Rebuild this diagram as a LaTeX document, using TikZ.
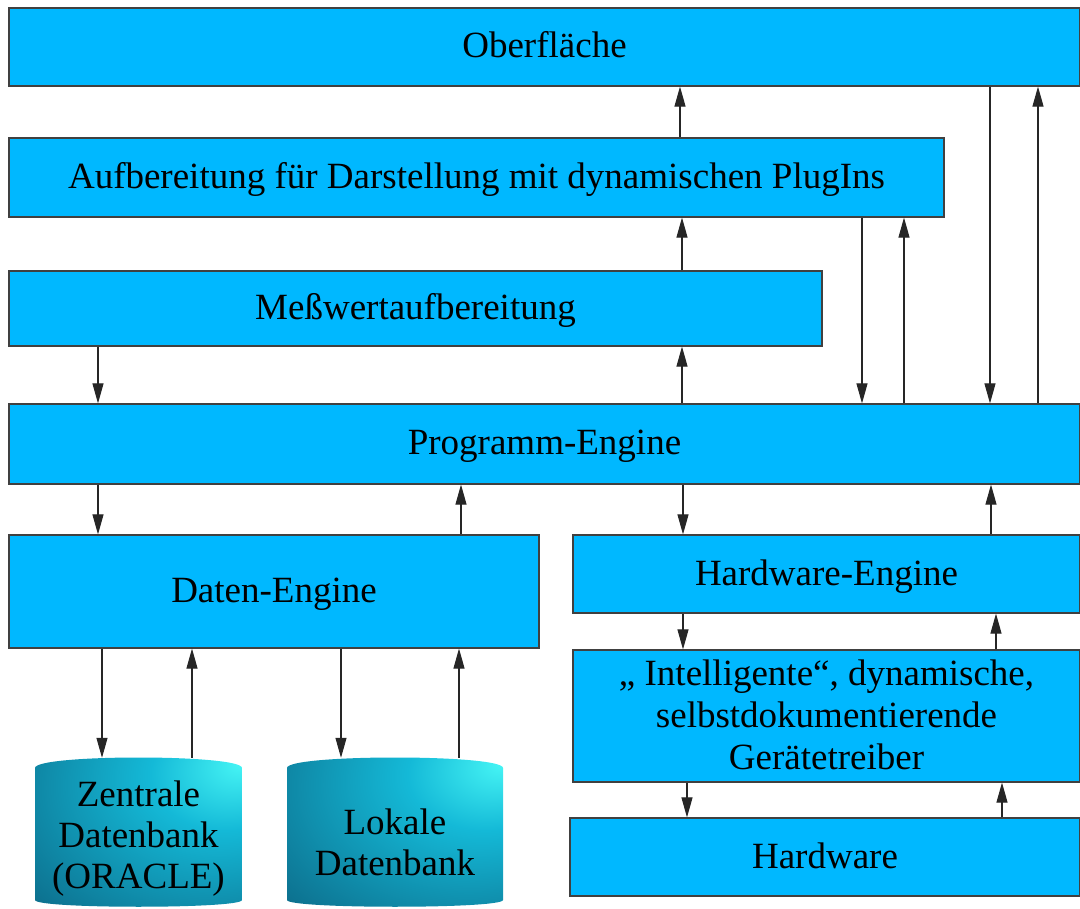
\documentclass[tikz,border=0pt]{standalone}
\usepackage{fontspec}
\setmainfont{Liberation Serif}
\usetikzlibrary{arrows.meta}
\definecolor{boxblue}{RGB}{0,184,255}
\definecolor{cA}{RGB}{70,245,245}
\definecolor{cB}{RGB}{20,185,215}
\definecolor{cC}{RGB}{12,105,135}
\pgfdeclareradialshading{cylshade}{\pgfpoint{25bp}{22bp}}{color(0bp)=(cA); color(18bp)=(cB); color(55bp)=(cC); color(110bp)=(cC)}
\begin{document}
\begin{tikzpicture}[x=1pt,y=-1pt,
  box/.style={draw=black!75, line width=1.2pt, fill=boxblue, inner sep=0pt, align=center,
    font=\fontsize{37}{42}\selectfont, text height=30pt, text depth=8pt},
  cyltext/.style={inner sep=0pt, align=center, font=\fontsize{37}{41}\selectfont},
  arr/.style={-{Triangle[length=20pt,width=11pt]}, line width=1.1pt, draw=black!85}]
\useasboundingbox (0,0) rectangle (1080,909);

\node[box, minimum width=1071pt, minimum height=78pt] (obf) at (544.5,47) {Oberfläche};
\node[box, minimum width=935pt, minimum height=79pt] (aufb) at (476.5,177.5) {Aufbereitung für Darstellung mit dynamischen PlugIns};
\node[box, minimum width=813pt, minimum height=75pt] (mess) at (415.5,308.5) {Meßwertaufbereitung};
\node[box, minimum width=1071pt, minimum height=80pt] (prog) at (544.5,444) {Programm-Engine};
\node[box, minimum width=530pt, minimum height=113pt] (daten) at (274,591.5) {Daten-Engine};
\node[box, minimum width=507pt, minimum height=78pt] (hwe) at (826.5,574) {Hardware-Engine};
\node[box, text height=114pt, text depth=8pt, minimum width=507pt, minimum height=132pt] (treib) at (826.5,716) {„ Intelligente“, dynamische,\\selbstdokumentierende\\Gerätetreiber};
\node[box, minimum width=510pt, minimum height=78pt] (hw) at (825,857) {Hardware};

% cylinders
\shade[shading=cylshade] (35,768) .. controls (35,754) and (242,754) .. (242,768) -- (242,900) .. controls (242,909) and (35,909) .. (35,900) -- cycle;
\shade[shading=cylshade] (287,768) .. controls (287,754) and (503,754) .. (503,768) -- (503,900) .. controls (503,909) and (287,909) .. (287,900) -- cycle;
\node[cyltext, minimum width=207pt, minimum height=162pt] (zdb) at (138.5,839) {Zentrale\\Datenbank\\(ORACLE)};
\node[cyltext, minimum width=216pt, minimum height=168pt] (ldb) at (395,842) {Lokale\\Datenbank};

\foreach \x in {98,102,192,341,459,461,680,682,683,687,862,904,990,991,996,1002,1038}
  \coordinate (v\x) at (\x,0);

\foreach \x/\a/\b in {680/aufb.north/obf.south, 682/mess.north/aufb.south,
  682/prog.north/mess.south, 862/aufb.south/prog.north, 904/prog.north/aufb.south,
  990/obf.south/prog.north, 1038/prog.north/obf.south, 98/mess.south/prog.north,
  98/prog.south/daten.north, 461/daten.north/prog.south, 683/prog.south/hwe.north,
  991/hwe.north/prog.south, 683/hwe.south/treib.north, 996/treib.north/hwe.south,
  687/treib.south/hw.north, 1002/hw.north/treib.south, 102/daten.south/zdb.north,
  192/zdb.north/daten.south, 341/daten.south/ldb.north, 459/ldb.north/daten.south}
  \draw[arr] (\a -| v\x) -- (\b -| v\x);
\end{tikzpicture}
\end{document}
